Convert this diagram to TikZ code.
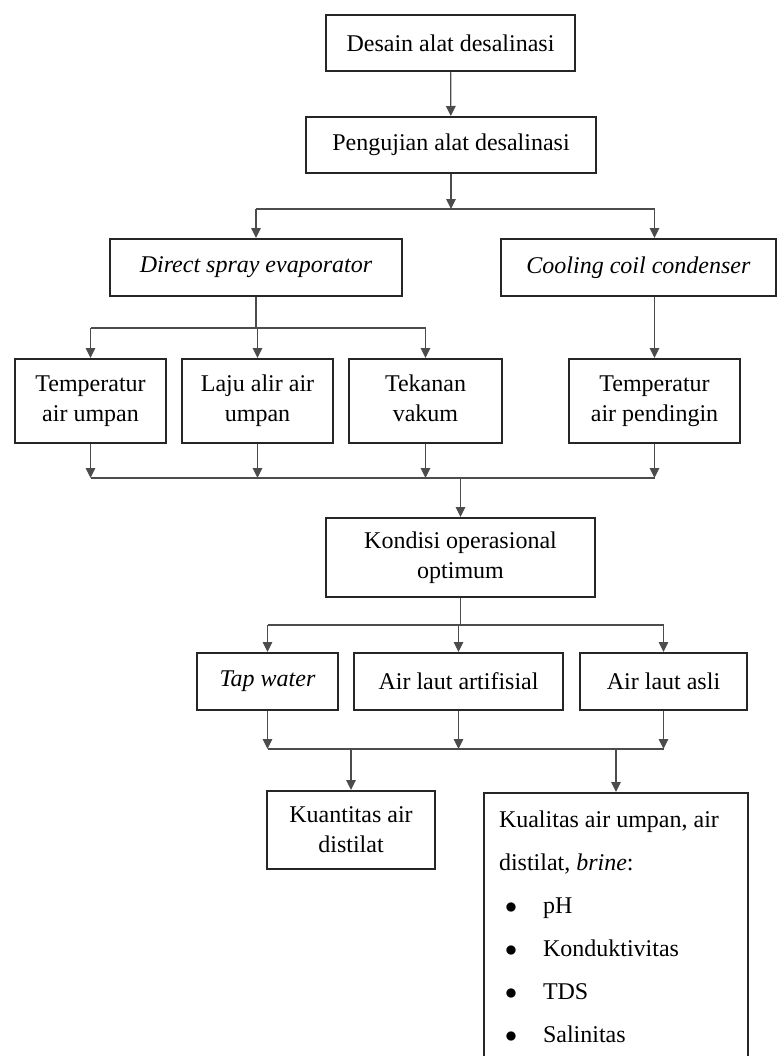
\documentclass[tikz,border=0pt]{standalone}
\usepackage{fontspec}
\setmainfont{Liberation Serif}
\usetikzlibrary{arrows.meta}

\begin{document}
\begin{tikzpicture}[x=0.5pt,y=-0.5pt]
\tikzstyle{box}=[draw=black!85,line width=1pt,align=center,inner sep=0pt,font=\fontsize{12}{15}\selectfont]
\tikzstyle{link}=[draw=black!70,line width=0.6pt]
\tikzstyle{arr}=[link,-{Triangle[length=5pt,width=4.8pt]}]
\newcommand{\dotitem}{\makebox[22pt][l]{\hspace{3pt}\ensuremath{\bullet}}}
\useasboundingbox (0,0) rectangle (778,1056);
\clip (0,0) rectangle (778,1056);
\node[box,minimum width=124.5pt,minimum height=28pt] (desain) at (450.5,43) {Desain alat desalinasi};
\node[box,minimum width=145pt,minimum height=28pt] (uji) at (451,145) {Pengujian alat desalinasi};
\node[box,minimum width=146pt,minimum height=28.5pt] (dse) at (256,267.5) {\textit{Direct spray evaporator}};
\node[box,minimum width=137.5pt,minimum height=28.5pt] (ccc) at (638.5,267.5) {\textit{Cooling coil condenser}};
\node[box,minimum width=75.5pt,minimum height=42pt] (tau) at (90.5,401) {Temperatur\\air umpan};
\node[box,minimum width=75.5pt,minimum height=42pt] (laju) at (257.5,401) {Laju alir air\\umpan};
\node[box,minimum width=76.5pt,minimum height=42pt] (tek) at (425.5,401) {Tekanan\\vakum\vphantom{p}};
\node[box,minimum width=85.5pt,minimum height=42pt] (tpd) at (654.5,401) {Temperatur\\air pendingin};
\node[box,minimum width=134.5pt,minimum height=39.5pt] (kon) at (460.5,557.5) {Kondisi operasional\\optimum};
\node[box,minimum width=70.5pt,minimum height=28.5pt] (tap) at (267.5,681.5) {\textit{Tap water}};
\node[box,minimum width=104.5pt,minimum height=28.5pt] (art) at (458.5,681.5) {Air laut artifisial};
\node[box,minimum width=83.5pt,minimum height=28.5pt] (asli) at (663.5,681.5) {Air laut asli};
\node[box,minimum width=84pt,minimum height=39pt] (kuan) at (351,830) {Kuantitas air\\distilat};
\node[box,anchor=north west,align=flush left,text width=117pt,inner xsep=7.5pt,inner ysep=9pt,
  font=\fontsize{12}{21.5}\selectfont] (kual) at (483,792)
  {Kualitas air umpan, air\\distilat, \textit{brine}:\\
   \dotitem pH\\
   \dotitem Konduktivitas\\
   \dotitem TDS\\
   \dotitem Salinitas};
\coordinate (j1) at (451,209);
\coordinate (j2) at (256,328);
\coordinate (j3) at (460.5,478);
\coordinate (j4) at (460.5,625);
\coordinate (j5) at (458.5,749);
\draw[arr] (desain) -- (uji);
\draw[arr] (uji) -- (j1);
\draw[link] (j1 -| dse) -- (j1 -| tpd);
\draw[arr] (j1 -| dse) -- (dse);
\draw[arr] (j1 -| tpd) -- (tpd |- ccc.north);
\draw[link] (dse) -- (j2);
\draw[link] (j2 -| tau) -- (j2 -| tek);
\draw[arr] (j2 -| tau) -- (tau);
\draw[arr] (j2 -| laju) -- (laju);
\draw[arr] (j2 -| tek) -- (tek);
\draw[arr] (ccc.south -| tpd) -- (tpd);
\draw[arr] (tau) -- (tau |- j3);
\draw[arr] (laju) -- (laju |- j3);
\draw[arr] (tek) -- (tek |- j3);
\draw[arr] (tpd) -- (tpd |- j3);
\draw[link] (tau |- j3) -- (tpd |- j3);
\draw[arr] (j3) -- (kon);
\draw[link] (kon) -- (j4);
\draw[link] (j4 -| tap) -- (j4 -| asli);
\draw[arr] (j4 -| tap) -- (tap);
\draw[arr] (j4 -| art) -- (art);
\draw[arr] (j4 -| asli) -- (asli);
\draw[arr] (tap) -- (tap |- j5);
\draw[arr] (art) -- (art |- j5);
\draw[arr] (asli) -- (asli |- j5);
\draw[link] (tap |- j5) -- (asli |- j5);
\draw[arr] (j5 -| kuan) -- (kuan);
\draw[arr] (j5 -| kual) -- (kual);
\end{tikzpicture}
\end{document}
